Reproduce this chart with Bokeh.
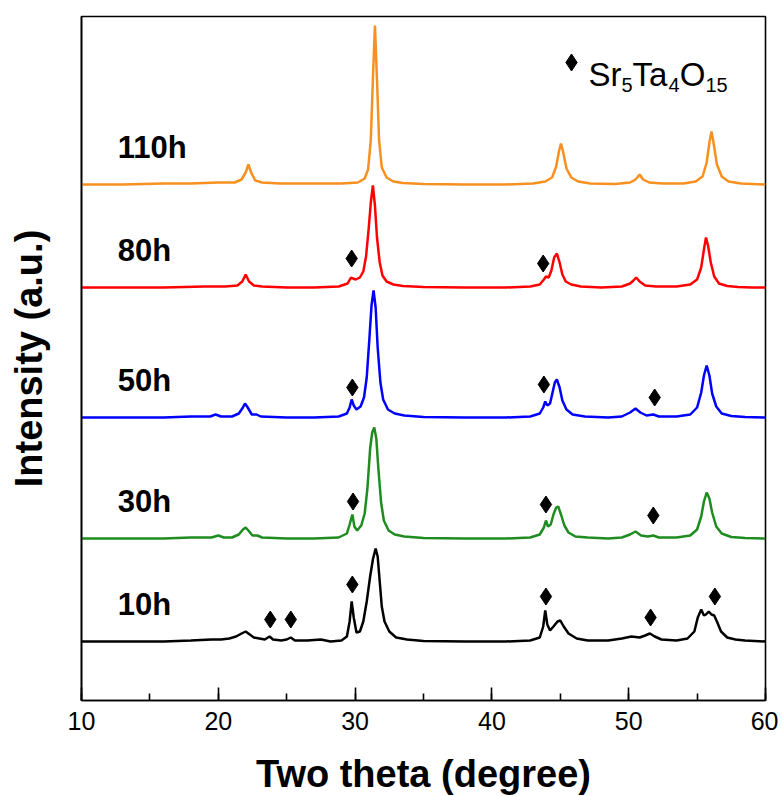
from bokeh.plotting import figure
from bokeh.models import Range1d, SingleIntervalTicker, FixedTicker
from bokeh.embed import file_html
from bokeh.resources import INLINE
from bokeh.core.properties import value

# ---------------- data (2-theta in degrees, intensity in a.u. above each baseline) -------------
samples = ["110h", "80h", "50h", "30h", "10h"]
colors = ["#F7901E", "#FF0000", "#0000FF", "#1E8C1E", "#000000"]
offsets = [516, 413, 283, 162, 59]

pattern_110h = [(10,0),(13,0),(16,1),(18,1),(20,2),(21.2,2),(21.7,5),(22.0,12),(22.2,20),(22.4,12),(22.7,4),(23.2,2),
    (24.5,1),(27,1),(29,1),(30.2,2),(30.7,6),(30.95,15),(31.15,45),(31.3,105),(31.45,159),(31.6,105),(31.75,45),
    (31.95,17),(32.3,7),(32.8,3),(33.5,1.5),(35,0.5),(38,0),(41,0),(43,1),(43.9,3),(44.4,7),(44.7,18),(44.9,33),
    (45.05,41),(45.2,33),(45.45,16),(45.8,7),(46.3,3),(47.2,1),(49,0.5),(50.1,2),(50.5,5),(50.8,10),(51.05,5),
    (51.5,2),(52.5,1),(54,1),(54.9,3),(55.4,8),(55.7,22),(55.9,42),(56.05,53),(56.2,42),(56.45,20),(56.8,8),
    (57.3,3),(58.2,1),(60,0)]

pattern_80h = [(10,0),(13,0),(16,0),(19,1),(20.5,1),(21.4,2),(21.75,6),(22.0,13),(22.25,6),(22.6,2),(23.2,1),(25,0),
    (27,0),(28.8,1),(29.45,4),(29.7,10),(29.85,9),(30.05,8),(30.35,10),(30.6,16),(30.8,31),(31.0,60),(31.15,85),
    (31.3,102),(31.45,82),(31.6,50),(31.8,25),(32.0,12),(32.3,6),(32.8,3),(33.5,1.5),(35,0.5),(38,0),(41,0),
    (42.8,1),(43.5,3),(43.8,8),(43.95,11),(44.15,10),(44.35,17),(44.55,30),(44.75,34),(44.95,25),(45.15,13),
    (45.4,6),(45.8,3),(46.5,1),(48,0),(49.5,1),(50.1,4),(50.35,7),(50.55,10),(50.8,6),(51.2,2),(52,1),(53.5,1),
    (54.5,3),(55.0,8),(55.3,20),(55.5,38),(55.65,50),(55.8,42),(56.0,25),(56.25,11),(56.6,4),(57.2,1.5),
    (58,0.5),(59,0),(60,0)]

pattern_50h = [(10,0),(13,0),(16,0),(18,1),(19.4,1),(19.8,3),(20.2,1),(21.0,1),(21.5,4),(21.8,10),(21.95,14),
    (22.15,10),(22.45,3),(22.8,3),(23.1,1),(25,0),(27,0),(28.8,1),(29.4,4),(29.6,10),(29.75,18),(29.9,12),
    (30.1,8),(30.4,11),(30.65,20),(30.85,40),(31.05,80),(31.2,112),(31.35,127),(31.5,110),(31.65,70),(31.85,35),
    (32.05,18),(32.4,8),(32.9,4),(33.6,2),(35,0.5),(38,0),(41,0),(42.8,1),(43.5,4),(43.75,10),(43.9,16),
    (44.05,12),(44.25,14),(44.45,26),(44.6,35),(44.75,38),(44.95,30),(45.15,17),(45.45,8),(45.9,3),(46.8,1),
    (48.5,0),(49.5,1),(50.1,5),(50.5,9),(50.85,5),(51.3,2),(51.8,3),(52.2,1),(53.5,1),(54.5,3),(55.0,10),
    (55.3,25),(55.5,42),(55.7,52),(55.9,42),(56.1,24),(56.4,11),(56.8,4),(57.5,1.5),(58.5,0.5),(60,0)]

pattern_30h = [(10,0),(13,0),(16,0),(18,1),(19.5,1),(20.0,3),(20.4,1),(21.0,1),(21.5,4),(21.8,9),(22.0,11),
    (22.2,8),(22.5,3),(22.85,3),(23.2,1),(25,0),(27,0),(28.8,1),(29.4,5),(29.6,14),(29.8,24),(29.95,12),
    (30.15,8),(30.45,13),(30.7,25),(30.9,50),(31.1,90),(31.25,106),(31.4,111),(31.55,100),(31.7,70),(31.9,36),
    (32.1,18),(32.45,8),(32.9,4),(33.6,2),(35,0.5),(38,0),(41,0),(42.8,1),(43.5,4),(43.8,11),(43.95,18),
    (44.1,12),(44.3,14),(44.5,24),(44.7,31),(44.85,32),(45.05,24),(45.3,13),(45.6,6),(46.1,2),(47,1),(48.5,0),
    (49.5,1),(50.1,4),(50.5,7),(50.9,3),(51.4,2),(51.8,3),(52.2,1),(53.5,1),(54.5,3),(55.0,9),(55.3,22),
    (55.5,37),(55.7,46),(55.9,40),(56.1,26),(56.4,12),(56.8,5),(57.5,1.5),(58.5,0.5),(60,0)]

pattern_10h = [(10,0),(13,0),(16,0),(18,1),(19.5,2),(20.2,2),(20.8,3),(21.3,5),(21.7,8),(22.0,10),(22.3,7),
    (22.6,4),(23.0,3),(23.4,2),(23.75,5),(24.0,2),(24.6,1),(25.0,2),(25.3,4),(25.6,1),(26.5,1),(27.5,2),(28.2,0),
    (29.0,1),(29.4,5),(29.6,20),(29.75,40),(29.9,24),(30.1,9),(30.35,10),(30.6,20),(30.85,40),(31.1,65),
    (31.3,82),(31.5,93),(31.65,85),(31.8,60),(31.95,35),(32.15,20),(32.5,10),(33.0,4),(33.8,2),(35,0.5),(38,0),
    (41,0),(42.8,1),(43.5,4),(43.75,15),(43.9,31),(44.05,17),(44.25,11),(44.5,15),(44.8,20),(45.0,21),
    (45.25,15),(45.6,8),(46.2,3),(47.0,1),(48.5,1),(49.5,3),(50.2,5),(50.8,4),(51.2,6),(51.55,8),(51.9,5),
    (52.4,2),(53.5,1),(54.3,3),(54.8,10),(55.05,24),(55.3,32),(55.5,26),(55.65,27),(55.85,30),(56.05,27),
    (56.25,26),(56.45,20),(56.75,10),(57.2,4),(57.8,2),(58.5,1),(60,0)]

patterns = [pattern_110h, pattern_80h, pattern_50h, pattern_30h, pattern_10h]

# Sr5Ta4O15 reflections marked with diamonds: (2-theta, intensity above baseline)
marks_80h = [(29.75, 29), (43.75, 24)]
marks_50h = [(29.8, 30), (43.8, 33), (51.9, 20)]
marks_30h = [(29.85, 37), (43.95, 34), (51.8, 23)]
marks_10h = [(23.8, 22), (25.3, 22), (29.8, 57), (43.95, 45), (51.6, 24), (56.3, 45)]
marks = [[], marks_80h, marks_50h, marks_30h, marks_10h]

# legend text pieces (text, is_subscript)
legend_pieces = [("Sr", False), ("5", True), ("Ta", False), ("4", True), ("O", False), ("15", True)]

# ---------------- figure ----------------
FONT = "Liberation Sans"
p = figure(frame_width=684, frame_height=684, x_range=Range1d(10, 60), y_range=Range1d(0, 684),
           output_backend="svg", toolbar_location=None,
           min_border_left=81, min_border_right=13, min_border_top=16, min_border_bottom=10)
p.background_fill_color = "white"
p.border_fill_color = "white"
p.outline_line_color = "black"
p.outline_line_width = 1.6
p.xgrid.grid_line_color = None
p.ygrid.grid_line_color = None

xa = p.xaxis[0]
xa.ticker = SingleIntervalTicker(interval=10, num_minor_ticks=2)
xa.major_tick_in = 13
xa.major_tick_out = 0
xa.minor_tick_in = 7
xa.minor_tick_out = 0
xa.major_tick_line_width = 1.6
xa.minor_tick_line_width = 1.6
xa.major_tick_line_color = "black"
xa.minor_tick_line_color = "black"
xa.axis_line_width = 1.6
xa.axis_line_color = "black"
xa.major_label_text_font = FONT
xa.major_label_text_font_size = "25px"
xa.major_label_text_color = "black"
xa.major_label_standoff = 11
xa.axis_label = "Two theta (degree)"
xa.axis_label_text_font = FONT
xa.axis_label_text_font_style = "bold"
xa.axis_label_text_font_size = "38px"
xa.axis_label_text_color = "black"
xa.axis_label_standoff = 20

ya = p.yaxis[0]
ya.ticker = FixedTicker(ticks=[])
ya.axis_line_width = 1.6
ya.axis_line_color = "black"
ya.axis_label = "Intensity (a.u.)"
ya.axis_label_text_font = FONT
ya.axis_label_text_font_style = "bold"
ya.axis_label_text_font_size = "38px"
ya.axis_label_text_color = "black"
ya.axis_label_standoff = 32

for name, col, off, pat, mk in zip(samples, colors, offsets, patterns, marks):
    xs = [a for a, b in pat]
    ys = [b + off for a, b in pat]
    p.line(xs, ys, line_color=col, line_width=2.5)
    if mk:
        p.scatter([a for a, b in mk], [b + off for a, b in mk], marker="diamond",
                  size=17, fill_color="black", line_color="black")
    # sample label
    p.text([12.65], [off + 37], text=[name], text_font=value(FONT), text_font_style="bold",
           text_font_size="31px", text_baseline="middle", text_align="left", text_color="black")

# legend: diamond + Sr5Ta4O15 with subscripts (layout in pixels from the frame's left edge)
PX = 50.0 / 684  # degrees per pixel on the x scale
p.scatter([10 + 490 * PX], [638], marker="diamond", size=17, fill_color="black", line_color="black")
advance_em = {"Sr": 1.0, "5": 0.556, "Ta": 1.09, "4": 0.556, "O": 0.778, "15": 1.112}
main_size, sub_size = 33, 20
main_base, sub_base = 626, 616
cur = 507
for txt, sub in legend_pieces:
    size = sub_size if sub else main_size
    p.text([10 + cur * PX], [sub_base if sub else main_base], text=[txt], text_font=value(FONT),
           text_font_size=f"{size}px", text_baseline="alphabetic", text_align="left",
           text_color="black")
    cur += advance_em[txt] * size

open("out.html", "w").write(file_html(p, INLINE))
